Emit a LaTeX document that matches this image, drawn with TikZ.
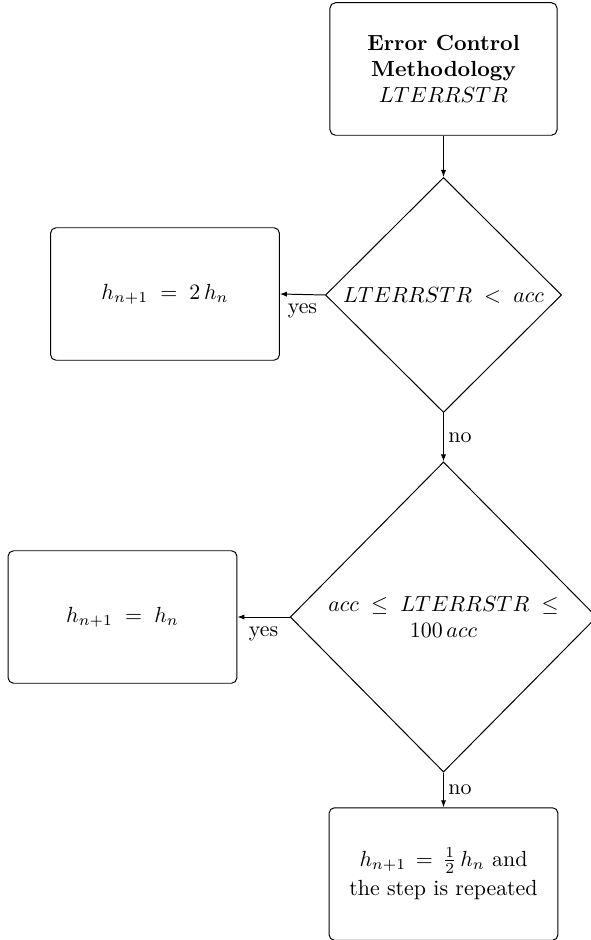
\documentclass[tikz,border=0pt]{standalone}
\usetikzlibrary{shapes.geometric,arrows.meta}
\begin{document}
\begin{tikzpicture}[x={(0.4566pt,0)},y={(0,-0.4566pt)},
  every node/.style={font=\normalsize},
  procbox/.style={draw,rounded corners=2.5pt,align=center,inner sep=2pt,
    minimum width=104.5pt,minimum height=60.5pt,line width=0.45pt},
  decision/.style={draw,diamond,align=center,inner sep=0pt,line width=0.45pt},
  flow/.style={-{Latex[length=3.2pt,width=2.4pt]},line width=0.45pt},
  lbl/.style={font=\normalsize,inner sep=2pt}]
\useasboundingbox (0,0) rectangle (590,940);

% boxes and decisions
\node[procbox,minimum width=103.7pt] (start) at (443.5,69)
  {\textbf{Error Control}\\ \textbf{Methodology}\\ $LTERRSTR$};
\node[decision,minimum width=107.8pt,minimum height=107.3pt] (d1) at (443.5,295)
  {$LTERRSTR\;<\;acc$};
\node[procbox] (double) at (165,294) {$h_{n+1}\;=\;2\,h_n$};
\node[decision,minimum width=140pt,minimum height=141.6pt] (d2) at (443.5,617)
  {$acc\;\le\;LTERRSTR\;\le$\\ $100\,acc$};
\node[procbox] (keep) at (122.5,617) {$h_{n+1}\;=\;h_n$};
\node[procbox] (half) at (443.5,874)
  {$h_{n+1}\,=\,\frac{1}{2}\,h_n$ and\\[1.5pt] the step is repeated};

% connectors
\draw[flow] (start.south) -- (d1.north);
\draw[flow] (d1.west) -- node[lbl,below,yshift=-2pt] {yes} (double.east);
\draw[flow] (d1.south) -- node[lbl,right] {no} (d2.north);
\draw[flow] (d2.west) -- node[lbl,below,yshift=-2pt] {yes} (keep.east);
\draw[flow] (d2.south) -- node[lbl,right] {no} (half.north);
\end{tikzpicture}
\end{document}
